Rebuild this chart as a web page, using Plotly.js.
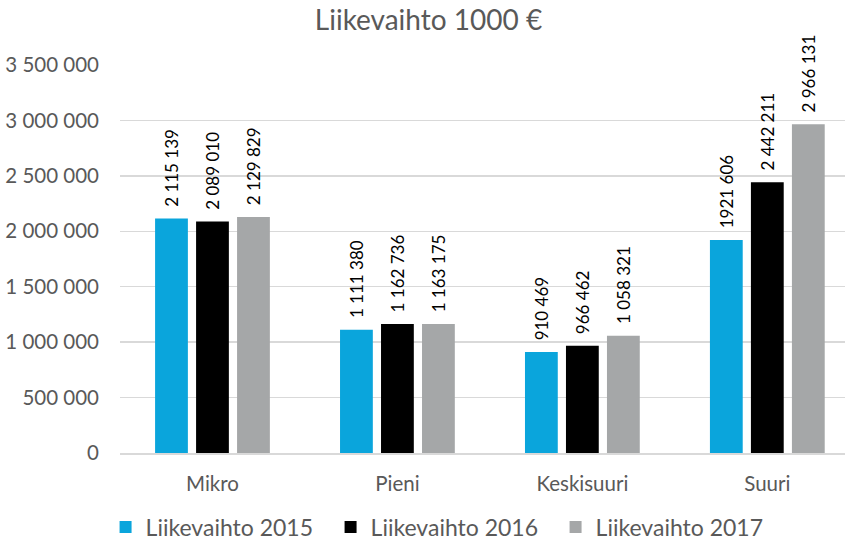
<!DOCTYPE html>
<html><head><meta charset="utf-8">
<script src="https://cdn.plot.ly/plotly-3.0.1.min.js"></script>
<style>html,body{margin:0;padding:0;background:#fff}#chart{width:857px;height:540px}</style>
</head><body><div id="chart"></div>
<script>
const categories = ["Mikro", "Pieni", "Keskisuuri", "Suuri"];
const seriesNames = ["Liikevaihto 2015", "Liikevaihto 2016", "Liikevaihto 2017"];
const values2015 = [2115139, 1111380, 910469, 1921606];
const values2016 = [2089010, 1162736, 966462, 2442211];
const values2017 = [2129829, 1163175, 1058321, 2966131];
const labels2015 = ["2 115 139", "1 111 380", "910 469", "1921 606"];
const labels2016 = ["2 089 010", "1 162 736", "966 462", "2 442 211"];
const labels2017 = ["2 129 829", "1 163 175", "1 058 321", "2 966 131"];
const colors = ["#0AA5DC", "#000000", "#A5A7A8"];

const FONT = "Lato, 'Open Sans', sans-serif";
const vals = [values2015, values2016, values2017];
const labs = [labels2015, labels2016, labels2017];
const traces = vals.map((v, i) => ({
  type: "bar", x: categories, y: v, name: seriesNames[i],
  marker: {color: colors[i]},
  text: labs[i], texttemplate: "\u00a0\u00a0%{text}",
  textposition: "outside", textangle: -90,
  textfont: {family: FONT, size: 17, color: "#000"},
  constraintext: "none", cliponaxis: false, hoverinfo: "none"
}));

Plotly.newPlot("chart", traces, {
  width: 857, height: 540,
  margin: {l: 120, r: 12, t: 65, b: 87},
  paper_bgcolor: "#fff", plot_bgcolor: "#fff",
  font: {family: FONT, color: "#595959"},
  separators: ", ",
  title: {text: "Liikevaihto 1000 €", x: 0.5, xanchor: "center", y: 0.963, yanchor: "middle",
          font: {family: FONT, size: 28, color: "#595959"}},
  barmode: "group", bargap: 0.335, bargroupgap: 0.2,
  xaxis: {type: "category", range: [-0.5, 3.42], showgrid: false, zeroline: false,
          showline: true, linecolor: "#D9D9D9", linewidth: 1.5, ticks: "",
          ticklabelstandoff: 12,
          tickfont: {family: FONT, size: 20.5, color: "#595959"}, fixedrange: true, automargin: false},
  yaxis: {range: [0, 3500000], dtick: 500000, tickformat: ",d", showgrid: true,
          gridcolor: "#D9D9D9", gridwidth: 1.5, zeroline: false, showline: false,
          ticks: "", ticklen: 0, ticklabelstandoff: 20,
          tickfont: {family: FONT, size: 20.5, color: "#595959"},
          automargin: false, fixedrange: true},
  legend: {orientation: "h", x: 0.517, xanchor: "center", xref: "container",
           y: 0.024, yanchor: "middle", yref: "container",
           entrywidth: 180, entrywidthmode: "pixels",
           font: {family: FONT, size: 23, color: "#595959"}, itemwidth: 30, traceorder: "normal"},
  showlegend: true
}, {displayModeBar: false, staticPlot: true});
</script></body></html>
